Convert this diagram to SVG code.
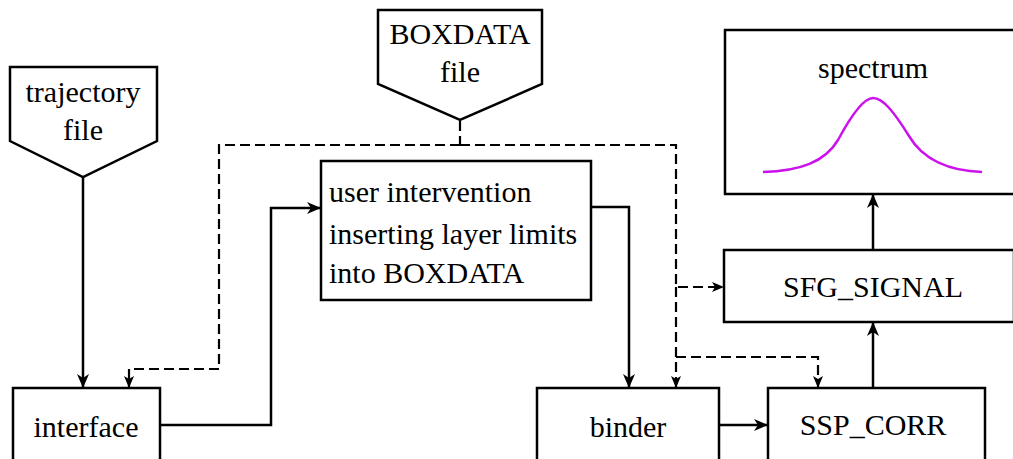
<svg xmlns="http://www.w3.org/2000/svg" width="1013" height="459" viewBox="0 0 1013 459">
<style>
.n{fill:#fff;stroke:#000;stroke-width:2.5}
.t{font-family:'Liberation Serif','Times New Roman',Times,serif;font-size:30px;fill:#000}
.c{text-anchor:middle}
.s{fill:none;stroke:#000;stroke-width:2.5}
.d{fill:none;stroke:#000;stroke-width:2.2;stroke-dasharray:10,5}
</style>
<defs>
<marker id="a" viewBox="0 0 14 12" refX="14" refY="6" markerWidth="14" markerHeight="12" markerUnits="userSpaceOnUse" orient="auto">
<path d="M0,0 L14,6 L0,12 L4,6 Z" fill="#000"/>
</marker>
<marker id="b" viewBox="0 0 12 10" refX="12" refY="5" markerWidth="12" markerHeight="10" markerUnits="userSpaceOnUse" orient="auto">
<path d="M0,0 L12,5 L0,10 L3,5 Z" fill="#000"/>
</marker>
</defs>
<rect width="1013" height="459" fill="#fff"/>
<g id="connectors">
<path class="s" d="M83,177 V388" marker-end="url(#a)"/>
<path class="s" d="M160,425 H271 V208 H321" marker-end="url(#a)"/>
<path class="s" d="M591,207 H629 V388" marker-end="url(#a)"/>
<path class="s" d="M719,425 H768" marker-end="url(#a)"/>
<path class="s" d="M873,388 V322" marker-end="url(#a)"/>
<path class="s" d="M873,250 V194" marker-end="url(#a)"/>
<path class="d" d="M460,121 V145"/>
<path class="d" d="M460,145 H219 V369 H129 V388" marker-end="url(#b)"/>
<path class="d" d="M460,145 H676 V287 H724" marker-end="url(#b)"/>
<path class="d" d="M676,287 V388" marker-end="url(#b)"/>
<path class="d" d="M676,357 H818 V388" marker-end="url(#b)"/>
</g>
<g id="trajectory">
<path class="n" d="M10,67 H157 V141 L83,177 L10,141 Z"/>
<text class="t c" x="83" y="102">trajectory</text>
<text class="t c" x="83" y="140">file</text>
</g>
<g id="boxdata">
<path class="n" d="M378,10 H542 V84 L460,120 L378,84 Z"/>
<text class="t c" x="460" y="44">BOXDATA</text>
<text class="t c" x="460" y="82">file</text>
</g>
<g id="user">
<rect class="n" x="321" y="161" width="270" height="139"/>
<text class="t" x="329" y="202">user intervention</text>
<text class="t" x="329" y="244">inserting layer limits</text>
<text class="t" x="329" y="283">into BOXDATA</text>
</g>
<g id="interface">
<rect class="n" x="13" y="388" width="147" height="80"/>
<text class="t c" x="86" y="437">interface</text>
</g>
<g id="binder">
<rect class="n" x="537" y="388" width="182" height="80"/>
<text class="t c" x="628" y="437">binder</text>
</g>
<g id="ssp">
<rect class="n" x="768" y="388" width="217" height="80"/>
<text class="t c" x="873" y="435">SSP_CORR</text>
</g>
<g id="sfg">
<rect class="n" x="724" y="250" width="290" height="72"/>
<text class="t c" x="873" y="297">SFG_SIGNAL</text>
</g>
<g id="spectrum">
<rect class="n" x="725" y="30" width="290" height="164"/>
<text class="t c" x="873" y="78">spectrum</text>
<path d="M763,172 C800,171 825,162 838,140 C852,114 864,98 873,98 C883,98 894,112 909,136 C923,160 950,171 982,172" fill="none" stroke="#cc11ee" stroke-width="2.5"/>
</g>
</svg>
